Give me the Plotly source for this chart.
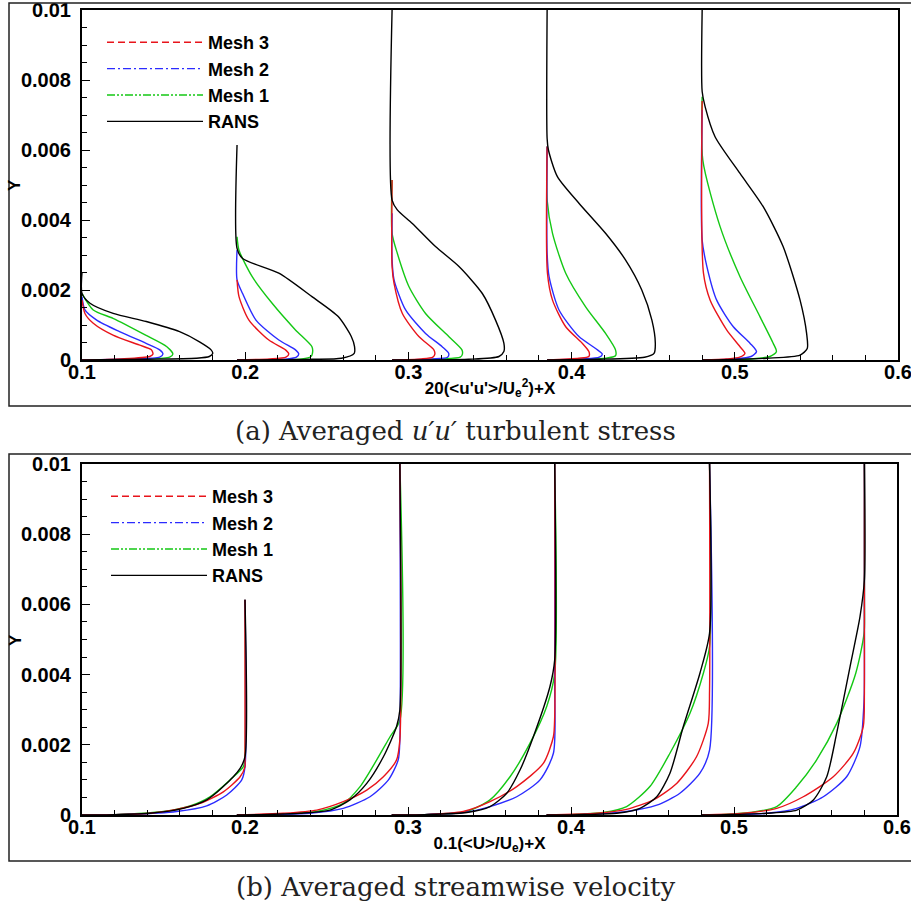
import plotly.graph_objects as go

W, H = 911, 908

STATIONS = [0.1, 0.195, 0.29, 0.385, 0.48]

# ---------- (a) 20<u'u'>/Ue^2 + X : offsets dx from station X, and Y ----------
UU_RANS_DX = [
    [0, 0.0, 0.0049, 0.0191, 0.0394, 0.0598, 0.072, 0.0791, 0.0801, 0.078, 0.070, 0.039, 0.0],
    [0, 0, 0.0034, 0.0256, 0.0459, 0.062, 0.070, 0.072, 0.0718, 0.064, 0.046, 0],
    [0, 0, 0.0032, 0.0124, 0.0266, 0.041, 0.0553, 0.0634, 0.0685, 0.0685, 0.0655, 0.047, 0],
    [0, 0, 0.0008, 0.0063, 0.0195, 0.0358, 0.048, 0.058, 0.0642, 0.0663, 0.0655, 0.0597, 0.0295, 0],
    [0, 0, 0.0018, 0.0079, 0.0232, 0.0374, 0.0496, 0.06, 0.064, 0.0644, 0.06, 0.0397, 0],
]
UU_RANS_Y = [
    [0.0025, 0.0019, 0.00162, 0.00133, 0.0011, 0.00081, 0.00052, 0.00029, 0.00019, 0.0001, 0.00005, 0.00002, 0],
    [0.00614, 0.00319, 0.0029, 0.00248, 0.00181, 0.00124, 0.00067, 0.00038, 0.00019, 0.00005, 0.00002, 0],
    [0.01, 0.00457, 0.00429, 0.0039, 0.00324, 0.00267, 0.0019, 0.00114, 0.00048, 0.00024, 0.0001, 0.00002, 0],
    [0.01, 0.00633, 0.006, 0.00524, 0.00448, 0.00362, 0.00286, 0.002, 0.00114, 0.00048, 0.00019, 0.00008, 0.00002, 0],
    [0.01, 0.00767, 0.00724, 0.00638, 0.00533, 0.00438, 0.00324, 0.00171, 0.00076, 0.00033, 0.00014, 0.00005, 0],
]
UU_M1_DX = [
    [0, 0.0069, 0.019, 0.039, 0.052, 0.0557, 0.0537, 0.039, 0],
    [0, 0.0012, 0.0093, 0.0215, 0.0358, 0.0459, 0.0462, 0.0453, 0.0398, 0],
    [0, 0, 0.0032, 0.0103, 0.0205, 0.0347, 0.0428, 0.0431, 0.0418, 0.03, 0],
    [0, 0, 0.0033, 0.0114, 0.0236, 0.0358, 0.0419, 0.0419, 0.036, 0],
    [0, 0.0004, 0.011, 0.0232, 0.0354, 0.0435, 0.0455, 0.0415, 0.03, 0],
]
UU_M1_Y = [
    [0.0019, 0.00143, 0.00119, 0.00071, 0.00038, 0.00017, 0.00008, 0.00002, 0],
    [0.00352, 0.00314, 0.00238, 0.00162, 0.00086, 0.00038, 0.00019, 0.0001, 0.00003, 0],
    [0.00514, 0.00362, 0.00305, 0.0021, 0.00133, 0.00067, 0.00029, 0.00017, 0.00008, 0.00003, 0],
    [0.0061, 0.00457, 0.00362, 0.00248, 0.00152, 0.00076, 0.00029, 0.00012, 0.00005, 0],
    [0.00752, 0.00571, 0.00381, 0.00238, 0.00124, 0.00048, 0.00024, 0.0001, 0.00003, 0],
]
UU_M2_DX = [
    [0, 0.0018, 0.009, 0.023, 0.039, 0.0476, 0.0496, 0.0476, 0.030, 0],
    [0, 0, 0.0034, 0.0116, 0.0256, 0.0358, 0.0378, 0.0364, 0.031, 0],
    [0, 0, 0.0012, 0.0083, 0.0205, 0.0307, 0.0347, 0.034, 0.025, 0],
    [0, 0, 0.0012, 0.0073, 0.0195, 0.0297, 0.0338, 0.032, 0.022, 0],
    [0, 0, 0.0029, 0.0089, 0.0191, 0.0293, 0.0333, 0.030, 0.02, 0],
]
UU_M2_Y = [
    [0.00181, 0.00143, 0.00114, 0.00081, 0.00048, 0.00029, 0.00017, 0.00008, 0.00003, 0],
    [0.00314, 0.00229, 0.0019, 0.00114, 0.00057, 0.00029, 0.00017, 0.00008, 0.00003, 0],
    [0.00419, 0.00286, 0.00229, 0.00143, 0.00076, 0.00038, 0.00019, 0.00008, 0.00003, 0],
    [0.0061, 0.00305, 0.00238, 0.00143, 0.00067, 0.00033, 0.00017, 0.00008, 0.00003, 0],
    [0.00714, 0.00343, 0.00267, 0.00171, 0.00095, 0.00048, 0.00024, 0.0001, 0.00003, 0],
]
UU_M3_DX = [
    [0, 0.0018, 0.0069, 0.019, 0.035, 0.0425, 0.0435, 0.0415, 0.024, 0],
    [0, 0.0012, 0.0073, 0.0195, 0.0297, 0.0317, 0.030, 0.02, 0],
    [0, 0, 0.0012, 0.0063, 0.0164, 0.0256, 0.0262, 0.025, 0.018, 0],
    [0, 0.0002, 0.0033, 0.0114, 0.0215, 0.0256, 0.0256, 0.0195, 0],
    [0, 0.0008, 0.0049, 0.015, 0.0232, 0.0262, 0.023, 0.015, 0],
]
UU_M3_Y = [
    [0.00171, 0.00133, 0.00105, 0.00071, 0.00043, 0.00029, 0.00017, 0.0001, 0.00003, 0],
    [0.00229, 0.00181, 0.00114, 0.00057, 0.00029, 0.00017, 0.00008, 0.00003, 0],
    [0.00514, 0.00267, 0.00219, 0.00133, 0.00067, 0.00029, 0.00017, 0.00008, 0.00003, 0],
    [0.0061, 0.00248, 0.00171, 0.00095, 0.00048, 0.00024, 0.0001, 0.00005, 0],
    [0.0074, 0.00248, 0.00171, 0.00086, 0.00038, 0.00019, 0.00008, 0.00003, 0],
]

# ---------- (b) 0.1<U>/Ue + X : offsets dx from station X, and Y ----------
U_RANS_DX = [
    [0.1, 0.1, 0.097, 0.0867, 0.0765, 0.0622, 0.0417, 0.02, 0],
    [0.1, 0.1, 0.098, 0.0899, 0.0797, 0.0694, 0.0571, 0.0387, 0.015, 0],
    [0.1, 0.1, 0.0971, 0.0869, 0.0787, 0.0706, 0.0603, 0.046, 0.02, 0],
    [0.1, 0.1, 0.0941, 0.0839, 0.0757, 0.0676, 0.0573, 0.043, 0.02, 0],
    [0.1, 0.1, 0.0973, 0.0912, 0.083, 0.0769, 0.0687, 0.0585, 0.04, 0.015, 0],
]
U_RANS_Y = [
    [0.00613, 0.00166, 0.00133, 0.00081, 0.00043, 0.00019, 0.00005, 0.00001, 0],
    [0.01, 0.00299, 0.00252, 0.00166, 0.0009, 0.00043, 0.00014, 0.00005, 0.00001, 0],
    [0.01, 0.00442, 0.00366, 0.00223, 0.00128, 0.00062, 0.00024, 0.00007, 0.00001, 0],
    [0.01, 0.00518, 0.00404, 0.00252, 0.00119, 0.00052, 0.00019, 0.00005, 0.00001, 0],
    [0.01, 0.0067, 0.00565, 0.00423, 0.00233, 0.00109, 0.00043, 0.00014, 0.00005, 0.00001, 0],
]
U_M1_DX = [
    [0.1, 0.1, 0.099, 0.0908, 0.0785, 0.0663, 0.05, 0.02, 0],
    [0.1, 0.1, 0.094, 0.0858, 0.0756, 0.0653, 0.049, 0.02, 0],
    [0.1, 0.1, 0.0951, 0.0848, 0.0726, 0.0603, 0.046, 0.02, 0],
    [0.1, 0.1, 0.0962, 0.088, 0.0757, 0.0634, 0.0491, 0.0348, 0.015, 0],
    [0.1, 0.1, 0.0998, 0.0947, 0.083, 0.0707, 0.0585, 0.0462, 0.0298, 0.012, 0],
]
U_M1_Y = [
    [0.00613, 0.00166, 0.00138, 0.001, 0.00052, 0.00026, 0.0001, 0.00001, 0],
    [0.01, 0.0027, 0.00223, 0.00157, 0.00081, 0.00033, 0.0001, 0.00001, 0],
    [0.01, 0.00404, 0.00309, 0.00204, 0.00109, 0.00043, 0.0001, 0.00001, 0],
    [0.01, 0.0048, 0.00404, 0.0029, 0.00176, 0.00081, 0.00024, 0.00007, 0.00001, 0],
    [0.01, 0.00613, 0.00518, 0.00404, 0.00261, 0.00157, 0.00081, 0.00024, 0.00007, 0.00001, 0],
]
U_M2_DX = [
    [0.1, 0.1, 0.098, 0.0888, 0.0765, 0.058, 0.03, 0],
    [0.1, 0.1, 0.099, 0.093, 0.0817, 0.0653, 0.045, 0.02, 0],
    [0.1, 0.1, 0.0992, 0.091, 0.0767, 0.0603, 0.0439, 0.02, 0],
    [0.1, 0.1, 0.0941, 0.0818, 0.0676, 0.0491, 0.025, 0],
    [0.1, 0.1, 0.0998, 0.0973, 0.0891, 0.0748, 0.0585, 0.04, 0.015, 0],
]
U_M2_Y = [
    [0.00613, 0.00138, 0.001, 0.00057, 0.00026, 0.0001, 0.00002, 0],
    [0.01, 0.00214, 0.00157, 0.001, 0.00052, 0.00019, 0.00005, 0.00001, 0],
    [0.01, 0.00375, 0.00176, 0.001, 0.00052, 0.00024, 0.00007, 0.00001, 0],
    [0.01, 0.00185, 0.00119, 0.00062, 0.00028, 0.0001, 0.00002, 0],
    [0.01, 0.00536, 0.00328, 0.00195, 0.00109, 0.00052, 0.00019, 0.00005, 0.00001, 0],
]
U_M3_DX = [
    [0.1, 0.1, 0.1, 0.097, 0.0867, 0.0724, 0.058, 0.0417, 0.02, 0],
    [0.1, 0.1, 0.098, 0.0899, 0.0797, 0.0653, 0.049, 0.0285, 0],
    [0.1, 0.1, 0.0992, 0.093, 0.0767, 0.0603, 0.0439, 0.02, 0],
    [0.1, 0.1, 0.0992, 0.092, 0.0798, 0.0655, 0.0491, 0.031, 0],
    [0.1, 0.1, 0.0993, 0.0932, 0.0809, 0.0625, 0.0462, 0.026, 0],
]
U_M3_Y = [
    [0.00613, 0.0016, 0.00138, 0.00109, 0.00066, 0.00033, 0.00016, 0.00005, 0.00001, 0],
    [0.01, 0.00214, 0.00157, 0.00109, 0.00071, 0.00038, 0.00014, 0.00005, 0],
    [0.01, 0.0028, 0.00223, 0.00147, 0.00081, 0.00038, 0.0001, 0.00001, 0],
    [0.01, 0.00356, 0.00261, 0.00166, 0.0009, 0.00043, 0.00016, 0.00005, 0],
    [0.01, 0.00347, 0.00252, 0.00176, 0.00109, 0.00052, 0.00019, 0.00005, 0],
]

SERIES = ["Mesh 3", "Mesh 2", "Mesh 1", "RANS"]
COLORS = {"Mesh 3": "#e8141b", "Mesh 2": "#2b2bff", "Mesh 1": "#14c814", "RANS": "#000000"}
DASHES = {"Mesh 3": "7px,4px", "Mesh 2": "8px,3px,2px,3px",
          "Mesh 1": "8px,2px,2px,2px,2px,2px", "RANS": "solid"}

X_TICKS = [0.1, 0.2, 0.3, 0.4, 0.5, 0.6]
X_TICKTEXT = ["0.1", "0.2", "0.3", "0.4", "0.5", "0.6"]
Y_TICKS = [0, 0.002, 0.004, 0.006, 0.008, 0.01]
Y_TICKTEXT = ["0", "0.002", "0.004", "0.006", "0.008", "0.01"]


def join(dx_sets, y_sets):
    xs, ys = [], []
    for X, dxs, yv in zip(STATIONS, dx_sets, y_sets):
        xs += [X + d for d in dxs] + [None]
        ys += list(yv) + [None]
    return xs, ys


fig = go.Figure()
PANELS = [
    ("x", "y", "legend", {"RANS": (UU_RANS_DX, UU_RANS_Y), "Mesh 1": (UU_M1_DX, UU_M1_Y),
                          "Mesh 2": (UU_M2_DX, UU_M2_Y), "Mesh 3": (UU_M3_DX, UU_M3_Y)}),
    ("x2", "y2", "legend2", {"RANS": (U_RANS_DX, U_RANS_Y), "Mesh 1": (U_M1_DX, U_M1_Y),
                             "Mesh 2": (U_M2_DX, U_M2_Y), "Mesh 3": (U_M3_DX, U_M3_Y)}),
]
for xa, ya, lg, data in PANELS:
    for name in ["Mesh 1", "Mesh 2", "Mesh 3", "RANS"]:
        xs, ys = join(*data[name])
        fig.add_trace(go.Scatter(x=xs, y=ys, mode="lines", xaxis=xa, yaxis=ya,
                                 line=dict(color=COLORS[name], width=1.4, shape="spline", smoothing=0.7),
                                 showlegend=False, hoverinfo="skip"))
    for name in SERIES:
        fig.add_trace(go.Scatter(x=[None], y=[None], mode="lines", xaxis=xa, yaxis=ya,
                                 name=name, legend=lg,
                                 line=dict(color=COLORS[name], width=1.4, dash=DASHES[name])))

tickfont = dict(family="Liberation Sans", size=20, color="black", weight="bold")
titlefont = dict(family="Liberation Sans", size=17, color="black", weight="bold")


def xaxis(dom, anchor, title):
    return dict(domain=dom, anchor=anchor, range=[0.1, 0.6], tickvals=X_TICKS, ticktext=X_TICKTEXT,
                ticks="inside", ticklen=8, tickwidth=1.3, tickcolor="black", automargin=False,
                ticklabelstandoff=-7, ticklabeloverflow="allow",
                minor=dict(ticks="inside", ticklen=5, dtick=0.02, tick0=0.1, tickcolor="black", tickwidth=1),
                showline=True, linewidth=2, linecolor="black", mirror=True, showgrid=False,
                zeroline=False, tickfont=tickfont, title=dict(text=title, font=titlefont, standoff=0))


def yaxis(dom, anchor):
    return dict(domain=dom, anchor=anchor, range=[0, 0.01], tickvals=Y_TICKS, ticktext=Y_TICKTEXT,
                ticks="inside", ticklen=8, tickwidth=1.3, tickcolor="black", automargin=False,
                ticklabelstandoff=5, ticklabeloverflow="allow",
                minor=dict(ticks="inside", ticklen=5, dtick=0.0005, tick0=0, tickcolor="black", tickwidth=1),
                showline=True, linewidth=2, linecolor="black", mirror=True, showgrid=False,
                zeroline=False, tickfont=tickfont)


fx = lambda px: px / W
fy = lambda py: 1 - py / H

legfont = dict(family="Liberation Sans", size=18, color="black", weight="bold")
fig.update_layout(
    width=W, height=H, margin=dict(l=0, r=0, t=0, b=0),
    paper_bgcolor="white", plot_bgcolor="white",
    xaxis=xaxis([fx(82), fx(898)], "y", "20(&lt;u'u'&gt;/U<sub>e</sub><sup>2</sup>)+X"),
    yaxis=yaxis([fy(360), fy(10)], "x"),
    xaxis2=xaxis([fx(82), fx(897)], "y2", "0.1(&lt;U&gt;/U<sub>e</sub>)+X"),
    yaxis2=yaxis([fy(815), fy(464)], "x2"),
    legend=dict(x=fx(102), y=fy(24), xanchor="left", yanchor="top", font=legfont,
                bgcolor="rgba(0,0,0,0)", itemwidth=96, tracegroupgap=0),
    legend2=dict(x=fx(106), y=fy(478), xanchor="left", yanchor="top", font=legfont,
                 bgcolor="rgba(0,0,0,0)", itemwidth=96, tracegroupgap=0),
    showlegend=True,
    shapes=[
        dict(type="rect", xref="paper", yref="paper", x0=fx(9), x1=1.01, y0=fy(406), y1=fy(3),
             line=dict(color="#222", width=1.5)),
        dict(type="rect", xref="paper", yref="paper", x0=fx(9), x1=1.01, y0=fy(861), y1=fy(454),
             line=dict(color="#222", width=1.5)),
    ],
    annotations=[
        dict(text="Y", xref="paper", yref="paper", x=fx(15), y=fy(185), textangle=-90,
             showarrow=False, xanchor="center", yanchor="middle", font=titlefont),
        dict(text="Y", xref="paper", yref="paper", x=fx(15), y=fy(640), textangle=-90,
             showarrow=False, xanchor="center", yanchor="middle", font=titlefont),
        dict(text="(a) Averaged <i>u′u′</i> turbulent stress", xref="paper", yref="paper",
             x=fx(455), y=fy(431), showarrow=False, xanchor="center", yanchor="middle",
             font=dict(family="DejaVu Serif", size=26, color="#222")),
        dict(text="(b) Averaged streamwise velocity", xref="paper", yref="paper",
             x=fx(456), y=fy(887), showarrow=False, xanchor="center", yanchor="middle",
             font=dict(family="DejaVu Serif", size=26, color="#222")),
    ],
)

fig.write_html("out.html")
